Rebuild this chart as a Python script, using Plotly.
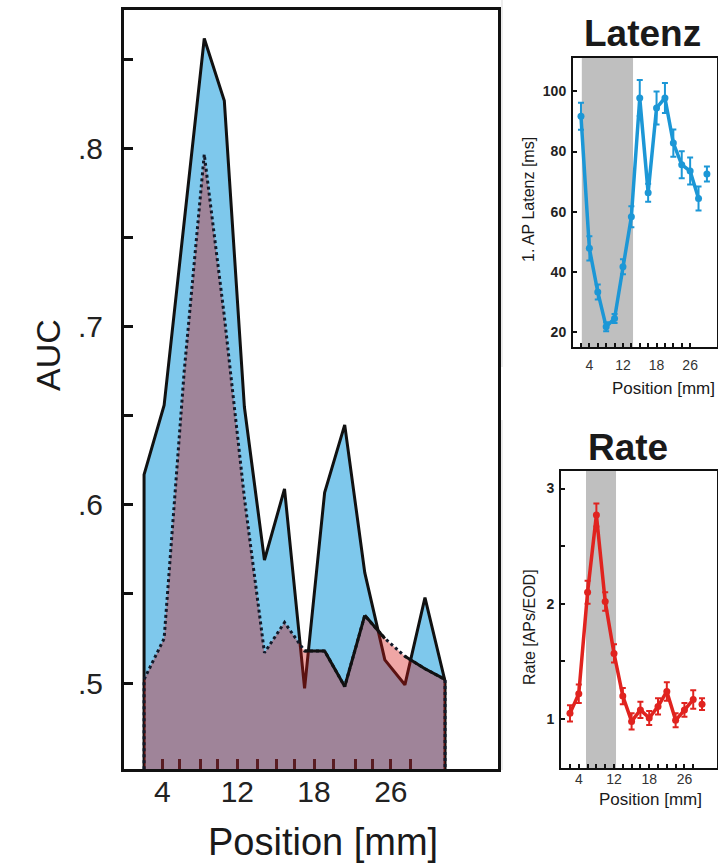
import plotly.graph_objects as go

W, H = 718, 863

# ---------------- data ----------------
POS_IDX = list(range(16))
AUC_LAT = [0.617, 0.656, 0.760, 0.862, 0.827, 0.655, 0.569, 0.609,
           0.497, 0.607, 0.645, 0.562, 0.513, 0.499, 0.548, 0.501]
AUC_RATE = [0.502, 0.525, 0.675, 0.797, 0.706, 0.604, 0.517, 0.534,
            0.518, 0.518, 0.498, 0.538, 0.525, 0.515, 0.508, 0.502]
# outline style of the rate-AUC curve per segment (True = solid, False = dotted)
RATE_SEG_SOLID = [False] * 8 + [True] * 4 + [False] + [True] * 2

MAIN_TICK_POS = [0.91, 1.79, 2.79, 3.65, 4.65, 5.66, 6.61, 7.49, 8.47, 9.42,
                 10.53, 11.37, 12.3, 13.3]
MAIN_TICK_TEXT = ['4', '', '', '', '12', '', '', '', '18', '', '', '', '26', '']
AUC_TICKS = [0.5, 0.55, 0.6, 0.65, 0.7, 0.75, 0.8, 0.85]
AUC_TICK_TEXT = ['.5', '', '.6', '', '.7', '', '.8', '']

LAT_MEAN = [91.7, 47.8, 33.3, 21.7, 24.5, 41.7, 58.3, 97.8,
            66.3, 94.5, 97.8, 82.8, 75.6, 73.5, 64.4, 72.5]
LAT_ERR = [4.5, 4.0, 2.5, 1.5, 1.5, 2.5, 3.5, 6.0,
           3.0, 5.5, 5.0, 4.5, 4.5, 4.5, 4.0, 2.5]
RATE_MEAN = [1.05, 1.22, 2.10, 2.77, 2.02, 1.57, 1.20, 0.98,
             1.08, 1.01, 1.11, 1.24, 0.99, 1.08, 1.17, 1.13]
RATE_ERR = [0.07, 0.08, 0.1, 0.1, 0.08, 0.08, 0.07, 0.07,
            0.07, 0.06, 0.07, 0.08, 0.06, 0.06, 0.08, 0.05]

LAT_TICK_POS = list(range(14))
RATE_TICK_POS = list(range(15))
SMALL_TICK_TEXT = ['', '4', '', '', '', '12', '', '', '', '18', '', '', '', '26', '']
LAT_YTICKS = [20, 40, 60, 80, 100]
RATE_YTICKS = [1, 1.5, 2, 2.5, 3]
RATE_YTICK_TEXT = ['1', '', '2', '', '3']
LAT_SHADE = [0.1, 6.2]
RATE_SHADE = [1.82, 5.23]

FONT = "Liberation Sans, Arial, Helvetica, sans-serif"
BLUE_FILL = '#7ec8ec'
RED_FILL = 'rgba(214,22,18,0.38)'
LAT_COL = '#1c97d6'
RATE_COL = '#e0231f'


def px(x):
    return x / W


def py(y):
    return 1 - y / H


fig = go.Figure()

# ---------------- main AUC panel ----------------
poly_x = [POS_IDX[0]] + POS_IDX + [POS_IDX[-1]]
fig.add_trace(go.Scatter(
    x=poly_x, y=[0] + AUC_LAT + [0], fill='toself', fillcolor=BLUE_FILL,
    mode='lines', line=dict(color='#111111', width=3), xaxis='x', yaxis='y',
    hoverinfo='skip', showlegend=False))
fig.add_trace(go.Scatter(
    x=poly_x, y=[0] + AUC_RATE + [0], fill='toself', fillcolor=RED_FILL,
    mode='lines', line=dict(color='#111a2a', width=3, dash='3px,3px'),
    xaxis='x', yaxis='y', hoverinfo='skip', showlegend=False))
sx, sy = [], []
for i, solid in enumerate(RATE_SEG_SOLID):
    if solid:
        sx += [POS_IDX[i], POS_IDX[i + 1], None]
        sy += [AUC_RATE[i], AUC_RATE[i + 1], None]
fig.add_trace(go.Scatter(
    x=sx, y=sy, mode='lines', line=dict(color='#111111', width=3),
    xaxis='x', yaxis='y', hoverinfo='skip', showlegend=False, connectgaps=False))

# ---------------- Latenz panel ----------------
fig.add_trace(go.Scatter(
    x=POS_IDX[:15], y=LAT_MEAN[:15], mode='lines',
    line=dict(color=LAT_COL, width=3.5), xaxis='x2', yaxis='y2',
    showlegend=False))
fig.add_trace(go.Scatter(
    x=POS_IDX, y=LAT_MEAN, mode='markers',
    marker=dict(color=LAT_COL, size=7),
    error_y=dict(type='data', array=LAT_ERR, color=LAT_COL, thickness=2, width=3),
    xaxis='x2', yaxis='y2', showlegend=False))

# ---------------- Rate panel ----------------
fig.add_trace(go.Scatter(
    x=POS_IDX[:15], y=RATE_MEAN[:15], mode='lines',
    line=dict(color=RATE_COL, width=3.5), xaxis='x3', yaxis='y3',
    showlegend=False))
fig.add_trace(go.Scatter(
    x=POS_IDX, y=RATE_MEAN, mode='markers',
    marker=dict(color=RATE_COL, size=7),
    error_y=dict(type='data', array=RATE_ERR, color=RATE_COL, thickness=2, width=3),
    xaxis='x3', yaxis='y3', showlegend=False))

frame = dict(showline=True, mirror=True, linecolor='#111111', showgrid=False,
             zeroline=False)

fig.update_layout(
    width=W, height=H, margin=dict(l=0, r=0, t=0, b=0),
    paper_bgcolor='white', plot_bgcolor='white',
    font=dict(family=FONT, color='#222222'),
    xaxis=dict(**frame, domain=[px(124), px(498)], range=[-1.0, 17.64],
               linewidth=3, tickmode='array', tickvals=MAIN_TICK_POS,
               ticktext=MAIN_TICK_TEXT, ticks='inside', ticklen=10,
               tickwidth=2.5, tickcolor='#5a1c22',
               tickfont=dict(size=30, color='#222222'), ticklabelstandoff=-6),
    yaxis=dict(**frame, domain=[py(769), py(10)], range=[0.4517, 0.878],
               linewidth=3, tickmode='array', tickvals=AUC_TICKS,
               ticktext=AUC_TICK_TEXT, ticks='inside', ticklen=9,
               tickwidth=2.5, tickcolor='#111111',
               tickfont=dict(size=30, color='#222222'), ticklabelstandoff=12),
    xaxis2=dict(**frame, domain=[px(573), px(717)], range=[-0.95, 16.2],
                linewidth=2, tickmode='array', tickvals=LAT_TICK_POS,
                ticktext=SMALL_TICK_TEXT[:14], ticks='inside', ticklen=4,
                tickwidth=2, tickcolor='#111111', anchor='y2',
                tickfont=dict(size=14, color='#333333'), ticklabelstandoff=4),
    yaxis2=dict(**frame, domain=[py(347), py(58)], range=[15, 111.1],
                linewidth=2, tickmode='array', tickvals=LAT_YTICKS,
                ticks='inside', ticklen=4, tickwidth=1.5, tickcolor='#111111',
                anchor='x2',
                tickfont=dict(size=14, color='#222222', weight='bold'),
                ticklabelstandoff=2),
    xaxis3=dict(**frame, domain=[px(561), px(717)], range=[-1.02, 16.7],
                linewidth=2, tickmode='array', tickvals=RATE_TICK_POS,
                ticktext=SMALL_TICK_TEXT, ticks='inside', ticklen=4,
                tickwidth=2, tickcolor='#111111', anchor='y3',
                tickfont=dict(size=14, color='#333333'), ticklabelstandoff=-3),
    yaxis3=dict(**frame, domain=[py(768), py(471)], range=[0.576, 3.152],
                linewidth=2, tickmode='array', tickvals=RATE_YTICKS,
                ticktext=RATE_YTICK_TEXT, ticks='inside', ticklen=4,
                tickwidth=1.5, tickcolor='#111111', anchor='x3',
                tickfont=dict(size=14, color='#222222', weight='bold'),
                ticklabelstandoff=2),
)

# shaded regions
fig.add_shape(type='rect', xref='x2', yref='y2 domain', x0=LAT_SHADE[0],
              x1=LAT_SHADE[1], y0=0, y1=1, fillcolor='#bfbfbf',
              line=dict(width=0), layer='below')
fig.add_shape(type='rect', xref='x3', yref='y3 domain', x0=RATE_SHADE[0],
              x1=RATE_SHADE[1], y0=0, y1=1, fillcolor='#bfbfbf',
              line=dict(width=0), layer='below')

# faint panel separators
for y0, y1 in [(0, 367), (420, 770)]:
    fig.add_shape(type='line', xref='paper', yref='paper', x0=px(502),
                  x1=px(502), y0=py(y0), y1=py(y1),
                  line=dict(color='#d9d9d9', width=1))

ann = [
    dict(text='AUC', x=48, y=355, size=34, angle=-90),
    dict(text='Position [mm]', x=323, y=842, size=38),
    dict(text='<b>Latenz</b>', x=642, y=33, size=37),
    dict(text='<b>Rate</b>', x=628, y=448, size=37),
    dict(text='1. AP Latenz [ms]', x=529, y=200, size=16, angle=-90),
    dict(text='Rate [APs/EOD]', x=529, y=627, size=16, angle=-90),
    dict(text='Position [mm]', x=663, y=388, size=17),
    dict(text='Position [mm]', x=650, y=799, size=17),
]
for a in ann:
    fig.add_annotation(text=a['text'], x=px(a['x']), y=py(a['y']),
                       xref='paper', yref='paper', showarrow=False,
                       xanchor='center', yanchor='middle',
                       textangle=a.get('angle', 0),
                       font=dict(size=a['size'], color='#1a1a1a', family=FONT))

fig.write_html("out.html")
